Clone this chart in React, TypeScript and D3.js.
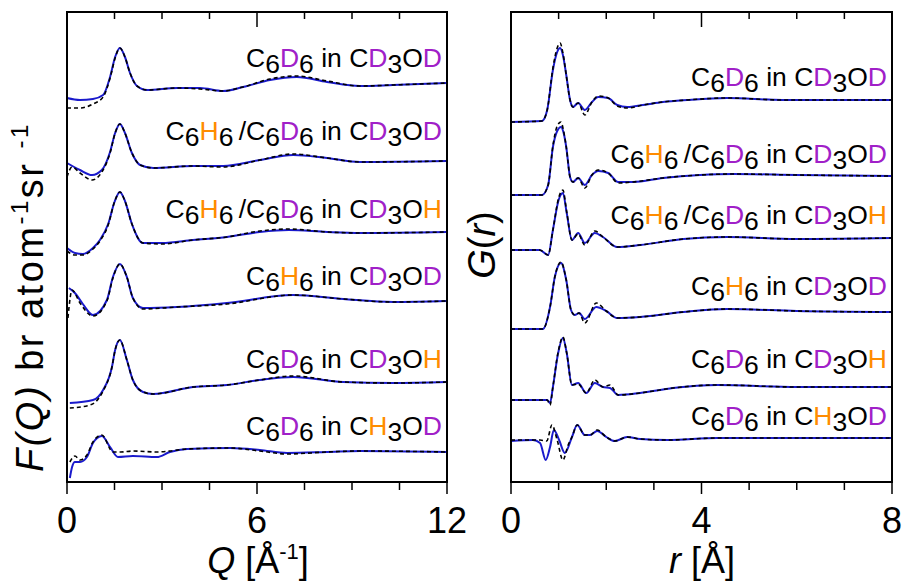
import React from "react";
import * as d3 from "d3";

const W = 905;
const H = 581;

// ---------- Left panel: F(Q) ----------
const fqLabels = [
  "C6D6 in CD3OD",
  "C6H6/C6D6 in CD3OD",
  "C6H6/C6D6 in CD3OH",
  "C6H6 in CD3OD",
  "C6D6 in CD3OH",
  "C6D6 in CH3OD",
];
const fqOffsets = [39.9, 32.1, 25.0, 18.1, 10.0, 3.0];

const fqModel1 = [[0,-1.5],[0.41,-1.7],[0.82,-1.6],[1.14,-1.2],[1.36,0.6],[1.52,2.6],[1.67,3.5],[1.83,2.6],[1.99,1.0],[2.21,-0.3],[2.53,-0.7],[3.47,-0.5],[4.2,-0.5],[4.93,-0.8],[5.56,-0.4],[6.41,0.3],[7.26,0.6],[8.21,0.1],[9.25,-0.3],[10.29,-0.2],[12,0]];
const fqExp1 = [[0,-2.5],[0.41,-2.5],[0.82,-2.1],[1.14,-1.4],[1.36,0.5],[1.52,2.5],[1.67,3.5],[1.83,2.6],[1.99,1.0],[2.21,-0.3],[2.53,-0.7],[3.47,-0.5],[4.2,-0.6],[4.93,-0.8],[5.56,-0.4],[6.41,0.4],[7.26,0.7],[8.21,0.2],[9.25,-0.3],[10.29,-0.2],[12,0]];
const fqModel2 = [[0,-0.2],[0.41,-0.9],[0.79,-1.4],[1.1,-0.9],[1.36,0.9],[1.52,2.8],[1.67,3.7],[1.83,2.8],[2.05,0.8],[2.31,-0.4],[2.72,-0.7],[3.98,-0.5],[4.93,-0.5],[6.09,0.1],[7.14,0.6],[8.21,0.3],[9.25,-0.1],[12,0]];
const fqExp2 = [[0,-1.6],[0.16,-0.6],[0.41,-1.2],[0.79,-1.9],[1.1,-1.1],[1.36,0.8],[1.52,2.8],[1.67,3.7],[1.83,2.8],[2.05,0.8],[2.31,-0.4],[2.72,-0.7],[3.98,-0.5],[4.93,-0.6],[6.09,0.1],[7.14,0.7],[8.21,0.3],[9.25,-0.1],[12,0]];
const fqModel3 = [[0,-1.6],[0.25,-2.1],[0.5,-2.2],[0.82,-1.6],[1.04,-0.8],[1.3,0.8],[1.5,3.0],[1.67,4.0],[1.83,3.1],[2.05,0.8],[2.4,-1.1],[3.0,-1.1],[3.98,-0.8],[5.05,-0.5],[6.09,0],[7.0,0.2],[8.21,0],[9.25,-0.1],[12,0]];
const fqExp3 = [[0,-1.9],[0.25,-2.3],[0.5,-2.3],[0.82,-1.7],[1.04,-0.9],[1.3,0.7],[1.5,3.0],[1.67,4.0],[1.83,3.1],[2.05,0.8],[2.4,-1.1],[3.0,-1.2],[3.98,-0.8],[5.05,-0.5],[6.09,0.1],[7.0,0.3],[8.21,0],[9.25,-0.1],[12,0]];
const fqModel4 = [[0.06,1.3],[0.25,0.8],[0.5,-0.3],[0.82,-1.4],[1.26,0.1],[1.45,2.4],[1.67,3.7],[1.89,2.4],[2.08,0.3],[2.4,-0.7],[3.47,-0.6],[5.05,-0.2],[7.14,0.6],[8.72,0.2],[10.29,-0.1],[12,0]];
const fqExp4 = [[0.03,-1.7],[0.16,1.1],[0.41,-0.2],[0.82,-1.5],[1.26,0.0],[1.45,2.3],[1.67,3.7],[1.89,2.4],[2.08,0.3],[2.4,-0.8],[3.47,-0.6],[5.05,-0.3],[7.14,0.6],[8.72,0.2],[10.29,-0.1],[12,0]];
const fqModel5 = [[0.09,-2.1],[0.82,-1.8],[1.14,-0.8],[1.42,1.5],[1.52,3.2],[1.67,4.2],[1.89,2.2],[2.08,0.2],[2.4,-1.0],[2.72,-1.2],[3.98,-0.5],[5.05,-0.3],[6.09,0.2],[7.14,0.5],[8.72,0],[10.29,-0.1],[12,0]];
const fqExp5 = [[0.09,-2.6],[0.73,-2.3],[1.14,-0.9],[1.42,1.5],[1.52,3.2],[1.67,4.2],[1.89,2.2],[2.08,0.2],[2.4,-1.0],[2.72,-1.2],[3.98,-0.5],[5.05,-0.3],[6.09,0.2],[7.14,0.6],[8.72,0],[10.29,-0.1],[12,0]];
const fqModel6 = [[0.09,-2.6],[0.16,-1.5],[0.25,-1.0],[0.41,-1.0],[0.63,-0.5],[0.82,0.9],[1.1,1.6],[1.36,0.5],[1.61,-0.5],[2.08,-0.4],[2.84,-0.5],[3.25,0],[3.79,0.3],[5.15,0.4],[6.09,0.2],[6.95,-0.1],[8.21,0],[9.25,0.1],[12,0]];
const fqExp6 = [[0.09,-1.0],[0.25,-0.4],[0.41,-0.8],[0.63,-0.3],[0.82,1.0],[1.1,1.7],[1.45,0.0],[1.7,0.0],[2.08,0.1],[2.84,0.0],[3.25,0.1],[3.79,0.3],[5.15,0.4],[6.09,0.1],[6.95,-0.2],[8.21,0],[9.25,0.1],[12,0]];

const fqModels = [fqModel1, fqModel2, fqModel3, fqModel4, fqModel5, fqModel6];
const fqExps = [fqExp1, fqExp2, fqExp3, fqExp4, fqExp5, fqExp6];
const fqLabelY = [67, 140, 218, 285, 368, 435];

// ---------- Right panel: G(r) ----------
const grLabels = fqLabels;
const grOffsets = [38.2, 30.6, 24.4, 17.0, 9.5, 4.4];

const grModel1 = [[0,-2.2],[0.65,-2.1],[0.76,-1.0],[0.88,3.0],[0.97,4.8],[1.03,5.2],[1.09,4.5],[1.16,2.5],[1.24,0],[1.3,-0.7],[1.41,-0.3],[1.55,-1.0],[1.7,-0.2],[1.83,0.3],[2.04,0.2],[2.23,-0.5],[2.44,-0.7],[2.77,-0.5],[3.19,-0.2],[3.7,0],[4.54,0.2],[5.7,0],[6.76,0],[8,0]];
const grExp1 = [[0,-2.2],[0.65,-2.1],[0.76,-1.0],[0.88,3.2],[0.97,5.2],[1.03,5.7],[1.09,4.7],[1.16,2.5],[1.24,0],[1.3,-0.7],[1.41,-0.3],[1.55,-1.5],[1.7,-0.2],[1.83,0.4],[2.04,0.2],[2.23,-0.6],[2.44,-0.8],[2.77,-0.5],[3.19,-0.2],[3.7,0],[4.54,0.2],[5.7,0],[6.76,0],[8,0]];
const grModel2 = [[0,-1.9],[0.65,-1.9],[0.78,-0.9],[0.88,2.9],[0.97,4.5],[1.05,4.9],[1.1,4.4],[1.16,2.9],[1.24,-0.1],[1.3,-0.6],[1.41,-0.2],[1.55,-0.9],[1.7,0.1],[1.83,0.5],[2.04,0.3],[2.25,-0.6],[2.56,-0.6],[3.19,-0.2],[3.97,0.1],[4.67,0.2],[6,0.1],[8,0]];
const grExp2 = [[0,-1.9],[0.65,-1.9],[0.78,-0.9],[0.88,3.0],[0.97,5.0],[1.05,5.4],[1.1,4.6],[1.16,2.9],[1.24,-0.1],[1.3,-0.6],[1.41,-0.2],[1.55,-1.2],[1.7,0.1],[1.83,0.6],[2.04,0.3],[2.25,-0.7],[2.56,-0.6],[3.19,-0.2],[3.97,0.1],[4.67,0.2],[6,0.1],[8,0]];
const grModel3 = [[0,-1.2],[0.6,-1.2],[0.78,-1.7],[0.88,0.8],[1.0,3.8],[1.09,4.5],[1.17,2.5],[1.28,-0.2],[1.41,0.5],[1.55,-0.5],[1.76,0.5],[1.93,0.1],[2.23,-0.9],[2.71,-0.7],[3.62,-0.1],[4.54,0.1],[6,-0.1],[8,0]];
const grExp3 = [[0,-1.2],[0.6,-1.2],[0.78,-1.7],[0.88,0.8],[1.0,4.0],[1.09,4.8],[1.17,2.6],[1.28,-0.2],[1.41,0.4],[1.55,-0.7],[1.76,0.7],[1.93,0.1],[2.23,-0.9],[2.71,-0.7],[3.62,-0.1],[4.54,0.1],[6,-0.1],[8,0]];
const grModel4 = [[0,-1.7],[0.67,-1.7],[0.82,0.5],[0.92,3.5],[1.05,4.9],[1.16,3.2],[1.26,0.2],[1.34,-0.3],[1.43,-0.1],[1.55,-0.7],[1.79,0.5],[2.0,0.1],[2.23,-0.6],[2.71,-0.5],[3.62,0],[4.54,0.3],[6,0.1],[8,0]];
const grExp4 = [[0,-1.7],[0.67,-1.7],[0.82,0.5],[0.92,3.5],[1.05,5.0],[1.16,3.2],[1.26,0.2],[1.34,-0.3],[1.43,-0.1],[1.55,-1.1],[1.79,0.9],[2.0,0.1],[2.23,-0.6],[2.71,-0.5],[3.62,0],[4.54,0.3],[6,0.1],[8,0]];
const grModel5 = [[0,-1.3],[0.76,-1.3],[0.82,-1.6],[0.88,0],[0.99,3.4],[1.09,4.9],[1.17,3.4],[1.28,0.2],[1.41,0.4],[1.58,-0.6],[1.76,0.4],[1.93,0],[2.08,-0.1],[2.25,-0.8],[2.71,-0.6],[3.4,-0.1],[4.33,0.2],[6,0],[8,0]];
const grExp5 = [[0,-1.3],[0.76,-1.3],[0.82,-1.8],[0.88,0],[0.99,3.5],[1.09,5.0],[1.17,3.4],[1.28,0.2],[1.41,0.3],[1.58,-0.6],[1.76,0.7],[1.93,0],[2.08,0.2],[2.25,-0.8],[2.71,-0.6],[3.4,-0.1],[4.33,0.2],[6,0],[8,0]];
const grModel6 = [[0,-0.3],[0.46,-0.2],[0.61,-0.5],[0.73,-2.2],[0.82,-0.9],[0.9,0.8],[1.01,-0.2],[1.13,-1.5],[1.28,0.1],[1.39,1.3],[1.55,0.3],[1.66,0.3],[1.81,0.7],[2.0,0.1],[2.18,-0.3],[2.44,0.1],[2.71,-0.1],[3.28,-0.2],[4.33,0],[8,0]];
const grExp6 = [[0,-0.2],[0.46,-0.2],[0.61,-0.2],[0.75,-0.3],[0.86,1.3],[0.97,-0.2],[1.09,-2.2],[1.2,-0.7],[1.28,0.1],[1.39,1.3],[1.55,0.3],[1.66,0.3],[1.81,0.8],[2.0,0.1],[2.18,-0.3],[2.44,0.1],[2.71,-0.1],[3.28,-0.2],[4.33,0],[8,0]];

const grModels = [grModel1, grModel2, grModel3, grModel4, grModel5, grModel6];
const grExps = [grExp1, grExp2, grExp3, grExp4, grExp5, grExp6];
const grLabelY = [86, 163, 224, 295, 368, 425];

const qTicks = [0, 1.5, 3, 4.5, 6, 7.5, 9, 10.5, 12];
const qMajor = [0, 6, 12];
const rTicks = [0, 1, 2, 3, 4, 5, 6, 7, 8];
const rMajor = [0, 4, 8];

const PURPLE = "#a020c8";
const ORANGE = "#ff8c00";
const BLUE = "#1a1acc";
const FONT = "'Liberation Sans', Arial, Helvetica, sans-serif";

const top = 12;
const bottom = 482;

function Label({ str, x, y }: { str: string; x: number; y: number }) {
  const runs: { t: string; color: string; sub: boolean }[] = [];
  for (const c of str) {
    const sub = /[0-9]/.test(c);
    const color = c === "D" ? PURPLE : c === "H" ? ORANGE : "#000";
    const last = runs[runs.length - 1];
    if (last && last.color === color && last.sub === sub) last.t += c;
    else runs.push({ t: c, color, sub });
  }
  let shifted = false;
  return (
    <text x={x} y={y} textAnchor="end" fontFamily={FONT} fontSize={26.5} style={{ whiteSpace: "pre" }}>
      {runs.map((r, i) => {
        let dy = 0;
        if (r.sub && !shifted) { dy = 6; shifted = true; }
        else if (!r.sub && shifted) { dy = -6; shifted = false; }
        return (
          <tspan key={i} fill={r.color} dy={dy}>
            {r.t.replace("/", "\u2009/")}
          </tspan>
        );
      })}
    </text>
  );
}

function Panel({ x0, x1, domain, ticks, major, models, exps, offsets, labels, labelY }: any) {
  const xs = d3.scaleLinear().domain(domain).range([x0, x1]);
  const ys = d3.scaleLinear().domain([0, 47]).range([bottom, top]);
  const mk = (off: number) =>
    d3.line<number[]>()
      .x((d) => xs(d[0]))
      .y((d) => ys(d[1] + off))
      .curve(d3.curveMonotoneX);
  return (
    <g>
      {models.map((m: number[][], i: number) => (
        <path key={"m" + i} d={mk(offsets[i])(m) || ""} fill="none" stroke={BLUE} strokeWidth={2} />
      ))}
      {exps.map((m: number[][], i: number) => (
        <path key={"e" + i} d={mk(offsets[i])(m) || ""} fill="none" stroke="#000" strokeWidth={1.6} strokeDasharray="4,3" />
      ))}
      {labels.map((l: string, i: number) => (
        <Label key={"l" + i} str={l} x={x1 - 5} y={labelY[i]} />
      ))}
      {ticks.map((t: number, i: number) => {
        const isMaj = major.includes(t);
        return (
          <g key={"t" + i}>
            <line x1={xs(t)} x2={xs(t)} y1={top} y2={top + (isMaj ? 15 : 7)} stroke="#000" strokeWidth={1.5} />
            <line x1={xs(t)} x2={xs(t)} y1={bottom} y2={bottom + (isMaj ? 12 : 8)} stroke="#000" strokeWidth={1.5} />
          </g>
        );
      })}
      {major.map((t: number, i: number) => (
        <text key={"tl" + i} x={xs(t)} y={533} textAnchor="middle" fontFamily={FONT} fontSize={36}>
          {t}
        </text>
      ))}
      <rect x={x0} y={top} width={x1 - x0} height={bottom - top} fill="none" stroke="#000" strokeWidth={2} />
    </g>
  );
}

export default function App() {
  return (
    <svg width={W} height={H} style={{ display: "block", position: "absolute", left: 0, top: 0, background: "#fff" }}>
      <rect width={W} height={H} fill="#fff" />
      <Panel x0={67} x1={447} domain={[0, 12]} ticks={qTicks} major={qMajor}
        models={fqModels} exps={fqExps} offsets={fqOffsets} labels={fqLabels} labelY={fqLabelY} />
      <Panel x0={511} x1={892} domain={[0, 8]} ticks={rTicks} major={rMajor}
        models={grModels} exps={grExps} offsets={grOffsets} labels={grLabels} labelY={grLabelY} />
      <text transform="translate(43,472) rotate(-90)" textAnchor="start" fontFamily={FONT} fontSize={38} letterSpacing={2.5} style={{ whiteSpace: "pre" }}>
        <tspan fontStyle="italic">F(Q)</tspan>
        <tspan> br atom</tspan>
        <tspan fontSize={24} dy={-15}>-1</tspan>
        <tspan dy={15}>sr </tspan>
        <tspan fontSize={24} dy={-15}>-1</tspan>
      </text>
      <text transform="translate(495,245) rotate(-90)" textAnchor="middle" fontFamily={FONT} fontSize={38}>
        <tspan fontStyle="italic">G</tspan>
        <tspan>(</tspan>
        <tspan fontStyle="italic">r</tspan>
        <tspan>)</tspan>
      </text>
      <text x={258} y={573} textAnchor="middle" fontFamily={FONT} fontSize={36} style={{ whiteSpace: "pre" }}>
        <tspan fontStyle="italic">Q</tspan>
        <tspan> [Å</tspan>
        <tspan fontSize={22} dy={-14}>-1</tspan>
        <tspan dy={14}>]</tspan>
      </text>
      <text x={702} y={573} textAnchor="middle" fontFamily={FONT} fontSize={36} style={{ whiteSpace: "pre" }}>
        <tspan fontStyle="italic">r</tspan>
        <tspan> [Å]</tspan>
      </text>
    </svg>
  );
}
